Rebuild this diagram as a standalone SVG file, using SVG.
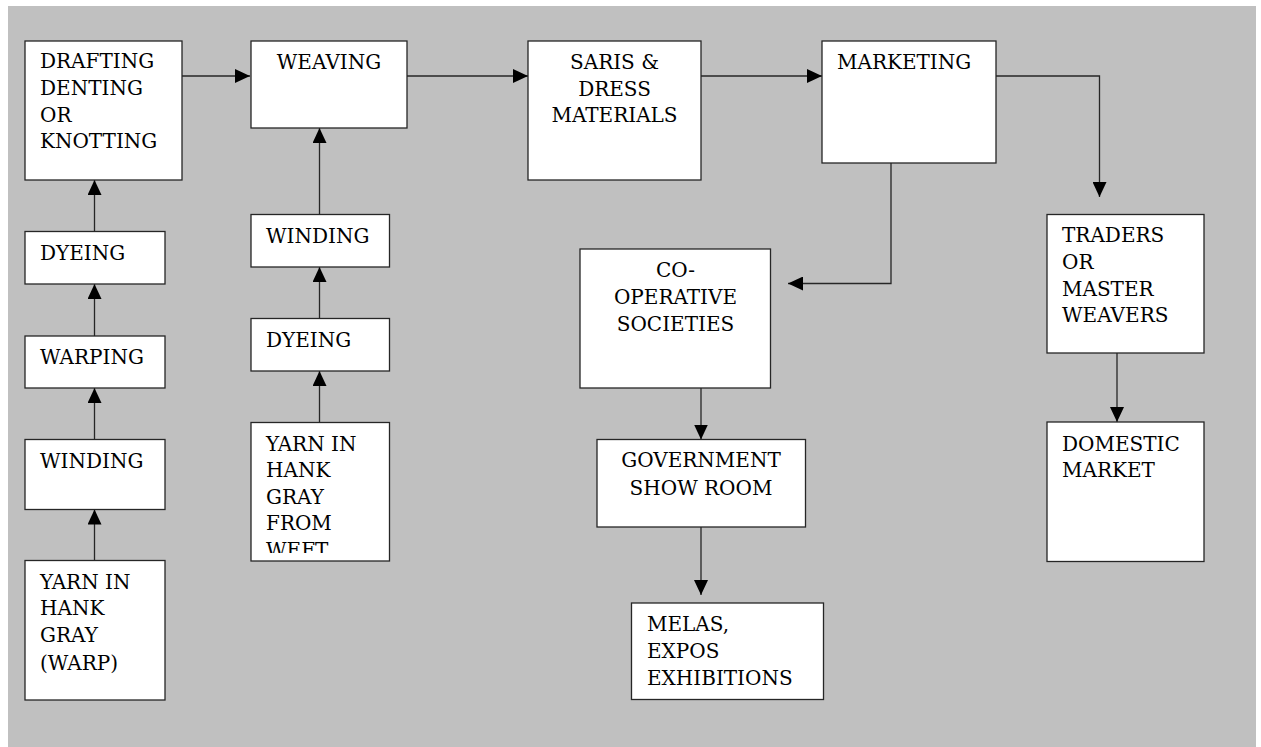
<svg xmlns="http://www.w3.org/2000/svg" width="1261" height="747" viewBox="0 0 1261 747">
<style>
.box{fill:#ffffff;stroke:#262626;stroke-width:1.3}
.t{font-family:"DejaVu Serif",serif;font-size:20px;fill:#000}
.c{text-anchor:middle}
.ln{fill:none;stroke:#262626;stroke-width:1.3}
</style>
<defs>
<marker id="ah" markerUnits="userSpaceOnUse" markerWidth="15" markerHeight="14" refX="15" refY="7" orient="auto">
<path d="M0,0 L15,7 L0,14 z" fill="#000"/>
</marker>
<clipPath id="clipWeft"><rect x="251" y="423" width="138" height="130"/></clipPath>
</defs>
<rect x="8" y="6" width="1248" height="741" fill="#c0c0c0"/>

<g id="connectors">
<line class="ln" x1="182" y1="76" x2="250" y2="76" marker-end="url(#ah)"/>
<line class="ln" x1="407" y1="76" x2="528" y2="76" marker-end="url(#ah)"/>
<line class="ln" x1="701" y1="76" x2="822" y2="76" marker-end="url(#ah)"/>
<polyline class="ln" points="996,76 1099.5,76 1099.5,197" marker-end="url(#ah)"/>
<polyline class="ln" points="891,163 891,283.5 788,283.5" marker-end="url(#ah)"/>
<line class="ln" x1="701" y1="388" x2="701" y2="439.5" marker-end="url(#ah)"/>
<line class="ln" x1="701" y1="527" x2="701" y2="595" marker-end="url(#ah)"/>
<line class="ln" x1="1117" y1="353" x2="1117" y2="422" marker-end="url(#ah)"/>
<line class="ln" x1="94.5" y1="231.5" x2="94.5" y2="180" marker-end="url(#ah)"/>
<line class="ln" x1="94.5" y1="336" x2="94.5" y2="284" marker-end="url(#ah)"/>
<line class="ln" x1="94.5" y1="439.5" x2="94.5" y2="388" marker-end="url(#ah)"/>
<line class="ln" x1="94.5" y1="560.5" x2="94.5" y2="509.5" marker-end="url(#ah)"/>
<line class="ln" x1="319.5" y1="214.5" x2="319.5" y2="128" marker-end="url(#ah)"/>
<line class="ln" x1="319.5" y1="318.5" x2="319.5" y2="267" marker-end="url(#ah)"/>
<line class="ln" x1="319.5" y1="422.5" x2="319.5" y2="371" marker-end="url(#ah)"/>
</g>

<g id="drafting">
<rect class="box" x="25" y="41" width="157" height="139"/>
<text class="t" x="40" y="68">DRAFTING</text>
<text class="t" x="40" y="95">DENTING</text>
<text class="t" x="40" y="121.5">OR</text>
<text class="t" x="40" y="148">KNOTTING</text>
</g>
<g id="weaving">
<rect class="box" x="251" y="41" width="156" height="87"/>
<text class="t c" x="329" y="69">WEAVING</text>
</g>
<g id="saris">
<rect class="box" x="528" y="41" width="173" height="139"/>
<text class="t c" x="614.5" y="69">SARIS &amp;</text>
<text class="t c" x="614.5" y="95.5">DRESS</text>
<text class="t c" x="614.5" y="122">MATERIALS</text>
</g>
<g id="marketing">
<rect class="box" x="822" y="41" width="174" height="122"/>
<text class="t" x="837" y="69">MARKETING</text>
</g>
<g id="dyeing-warp">
<rect class="box" x="25" y="231.5" width="140" height="52.5"/>
<text class="t" x="40" y="260">DYEING</text>
</g>
<g id="warping">
<rect class="box" x="25" y="336" width="140" height="52"/>
<text class="t" x="40" y="363.5">WARPING</text>
</g>
<g id="winding-warp">
<rect class="box" x="25" y="439.5" width="140" height="70"/>
<text class="t" x="40" y="467.5">WINDING</text>
</g>
<g id="yarn-warp">
<rect class="box" x="25" y="560.5" width="140" height="139.5"/>
<text class="t" x="40" y="588.5">YARN IN</text>
<text class="t" x="40" y="615">HANK</text>
<text class="t" x="40" y="642">GRAY</text>
<text class="t" x="40" y="669.5">(WARP)</text>
</g>
<g id="winding-weft">
<rect class="box" x="251" y="214.5" width="138.5" height="52.5"/>
<text class="t" x="266" y="242.5">WINDING</text>
</g>
<g id="dyeing-weft">
<rect class="box" x="251" y="318.5" width="138.5" height="52.5"/>
<text class="t" x="266" y="346.5">DYEING</text>
</g>
<g id="yarn-weft">
<rect class="box" x="251" y="422.5" width="138.5" height="138.5"/>
<g clip-path="url(#clipWeft)">
<text class="t" x="266" y="450.5">YARN IN</text>
<text class="t" x="266" y="477">HANK</text>
<text class="t" x="266" y="503.5">GRAY</text>
<text class="t" x="266" y="530">FROM</text>
<text class="t" x="266" y="556.5">WEFT</text>
</g>
</g>
<g id="cooperative">
<rect class="box" x="580" y="249" width="190.5" height="139"/>
<text class="t c" x="675.5" y="276.5">CO-</text>
<text class="t c" x="675.5" y="304">OPERATIVE</text>
<text class="t c" x="675.5" y="330.5">SOCIETIES</text>
</g>
<g id="government">
<rect class="box" x="597" y="439.5" width="208.5" height="87.5"/>
<text class="t c" x="701" y="466.5">GOVERNMENT</text>
<text class="t c" x="701" y="495">SHOW ROOM</text>
</g>
<g id="melas">
<rect class="box" x="631.5" y="603" width="192" height="96.5"/>
<text class="t" x="647" y="630.5">MELAS,</text>
<text class="t" x="647" y="658">EXPOS</text>
<text class="t" x="647" y="684.5">EXHIBITIONS</text>
</g>
<g id="traders">
<rect class="box" x="1047" y="214.5" width="157" height="138.5"/>
<text class="t" x="1062" y="241.5">TRADERS</text>
<text class="t" x="1062" y="268.5">OR</text>
<text class="t" x="1062" y="295.5">MASTER</text>
<text class="t" x="1062" y="322">WEAVERS</text>
</g>
<g id="domestic">
<rect class="box" x="1047" y="422" width="157" height="139.5"/>
<text class="t" x="1062" y="450.5">DOMESTIC</text>
<text class="t" x="1062" y="477">MARKET</text>
</g>
</svg>
